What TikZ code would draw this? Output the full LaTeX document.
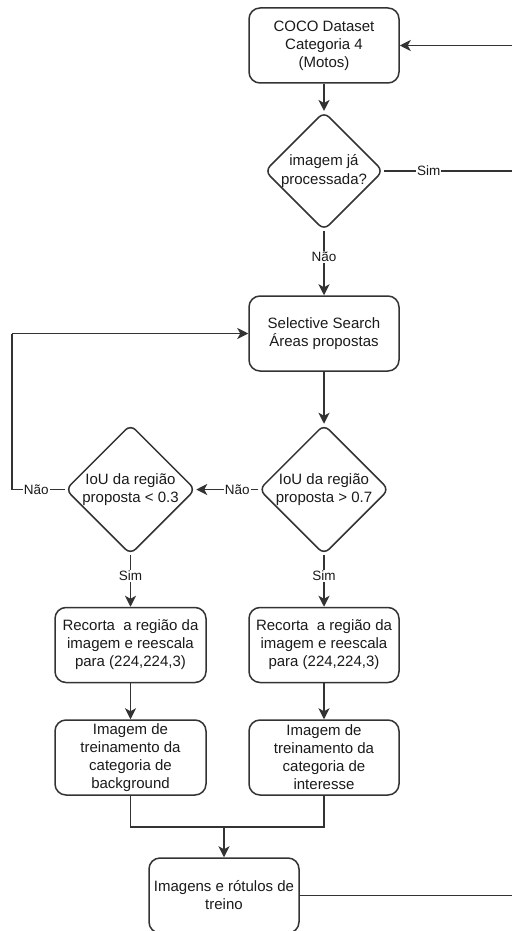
\documentclass[tikz,border=0pt]{standalone}
\usepackage{fontspec}
\setmainfont{Liberation Sans}
\usetikzlibrary{shapes.geometric,arrows.meta}
\definecolor{linecol}{HTML}{333333}
\definecolor{textcol}{HTML}{1A1A1A}
\begin{document}
\begin{tikzpicture}[x=1pt,y=-1pt,
  proc/.style={draw=linecol, line width=1.5pt, rounded corners=11pt,
    minimum width=150pt, minimum height=75pt, inner sep=0pt, align=center,
    text=textcol, font=\fontsize{15}{18}\selectfont},
  decision/.style={diamond, draw=linecol, line width=1.5pt, rounded corners=7pt,
    inner sep=0pt, align=center, text=textcol, font=\fontsize{15}{18.5}\selectfont},
  flow/.style={draw=linecol, line width=1.5pt, -{Stealth[length=11pt,width=11pt,inset=3pt]}},
  link/.style={draw=linecol, line width=1.5pt},
  lbl/.style={fill=white, text=textcol, inner sep=1pt, font=\fontsize{13.5}{16}\selectfont}]
\useasboundingbox (0,0) rectangle (512,931);

% boxes and decisions
\node[proc] (coco) at (324,45.5) {COCO Dataset\\Categoria 4\\(Motos)};
\node[decision, minimum width=118pt, minimum height=116pt] (d1) at (324,171) {imagem já\\processada?};
\node[proc] (ss) at (324,333.5) {Selective Search\\Áreas propostas};
\node[decision, minimum width=130pt, minimum height=130pt] (d2) at (324,489.5) {IoU da região\\proposta > 0.7};
\node[decision, minimum width=130pt, minimum height=130pt] (d3) at (130.5,489.5) {IoU da região\\proposta < 0.3};
\node[proc, minimum width=151pt] (rec1) at (130.5,645) {Recorta\ \ a região da\\imagem e reescala\\para (224,224,3)};
\node[proc] (rec2) at (324,645) {Recorta\ \ a região da\\imagem e reescala\\para (224,224,3)};
\node[proc, minimum width=151pt] (img1) at (130.5,757.5) {Imagem de\\treinamento da\\categoria de\\background};
\node[proc] (img2) at (324,757.5) {Imagem de\\treinamento da\\categoria de\\interesse};
\node[proc] (fin) at (224,895.5) {Imagens e rótulos de\\treino};

% free ends and bends
\coordinate (inR) at (512,45.5);
\coordinate (simR) at (512,171);
\coordinate (finR) at (512,895.5);
\coordinate (loopA) at (12,489.5);
\coordinate (loopB) at (12,333.5);
\coordinate (merge) at (224,827);

% connectors
\draw[flow] (inR) -- (coco.east);
\draw[flow] (coco.south) -- (d1.north);
\draw[link] (d1.east) -- node[lbl, pos=0.35] {Sim} (simR);
\draw[flow] (d1.south) -- node[lbl, pos=0.4] {Não} (ss.north);
\draw[flow] (ss.south) -- (d2.north);
\draw[flow] (d2.west) -- node[lbl, pos=0.34] {Não} (d3.east);
\draw[link] (d3.west) -- node[lbl, pos=0.54] {Não} (loopA) -- (loopB);
\draw[flow] (loopB) -- (ss.west);
\draw[flow] (d3.south) -- node[lbl, pos=0.4] {Sim} (rec1.north);
\draw[flow] (d2.south) -- node[lbl, pos=0.4] {Sim} (rec2.north);
\draw[flow] (rec1.south) -- (img1.north);
\draw[flow] (rec2.south) -- (img2.north);
\draw[link] (img1.south) |- (merge);
\draw[link] (img2.south) |- (merge);
\draw[flow] (merge) -- (fin.north);
\draw[link] (fin.east) -- (finR);
\end{tikzpicture}
\end{document}
